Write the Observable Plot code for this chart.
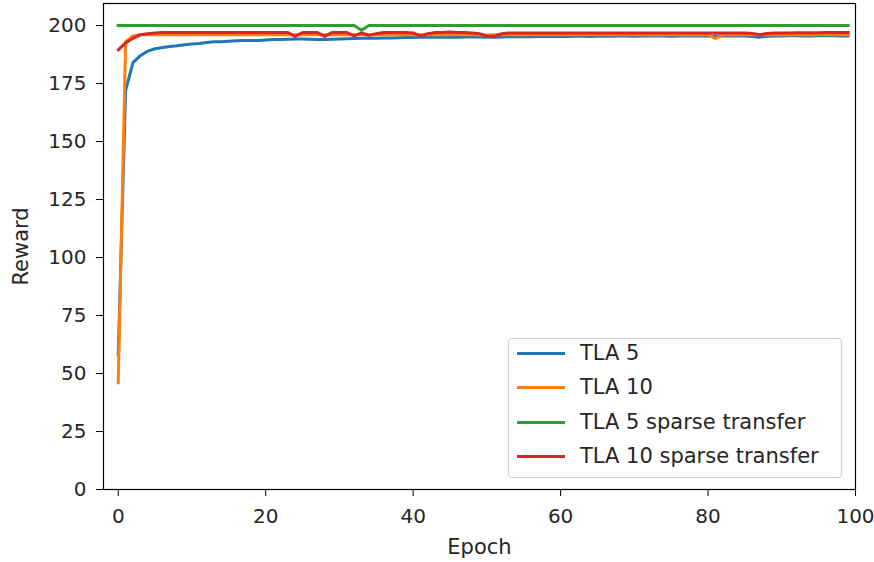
<!DOCTYPE html>
<html>
<head>
<meta charset="utf-8">
<script src="https://cdn.jsdelivr.net/npm/d3@7"></script>
<script src="https://cdn.jsdelivr.net/npm/@observablehq/plot@0.6"></script>
<style>
  html, body { margin: 0; padding: 0; background: #fff; }
  #wrap { position: relative; width: 874px; height: 562px; font-family: "DejaVu Sans", sans-serif; }
  #wrap svg { overflow: visible; }
  #legend { position: absolute; left: 508px; top: 338px; width: 334px; height: 140px;
    border: 1px solid #d0d0d0; border-radius: 4px; background: rgba(255,255,255,0.8); box-sizing: border-box; }
  .item { position: absolute; left: 8px; height: 22px; display: flex; align-items: center; }
  .sw { width: 48px; height: 3px; margin-right: 15px; }
  .lab { font-size: 21px; color: #262626; white-space: nowrap; }
</style>
</head>
<body>
<div id="wrap"></div>
<script>
const epochs = d3.range(0, 100);
const seriesNames = ["TLA 5", "TLA 10", "TLA 5 sparse transfer", "TLA 10 sparse transfer"];
const seriesColors = ["#1f77b4", "#ff7f0e", "#2ca02c", "#d62728"];
const xTicks = [0, 20, 40, 60, 80, 100];
const yTicks = [0, 25, 50, 75, 100, 125, 150, 175, 200];

const tla5 = [58,172,184,187,189,190,190.5,191,191.3,191.7,
  192,192.3,192.7,193,193,193.2,193.4,193.5,193.5,193.6,
  193.8,194,194,194.1,194.2,194.2,194.1,194,194,194.1,
  194.2,194.3,194.4,194.5,194.5,194.5,194.6,194.6,194.7,194.8,
  194.8,194.9,195,195,195,195,195,195.1,195.1,195.1,
  195,195,195.1,195.2,195.2,195.2,195.2,195.3,195.3,195.3,
  195.3,195.3,195.4,195.4,195.3,195.4,195.4,195.4,195.5,195.5,
  195.4,195.5,195.5,195.5,195.5,195.4,195.5,195.5,195.5,195.5,
  195.5,195.5,195.5,195.6,195.5,195.5,195.3,195,195.4,195.5,
  195.5,195.6,195.6,195.5,195.5,195.6,195.6,195.6,195.5,195.5];
const tla10 = [46,193,195.5,196,196,196,196,196,196,196,
  196,196,196,196,196,196,196,196,196,196,
  196,196,196,196,196,196,196,196,196,196,
  196,196,196,196,195.8,196,196,196,196,196,
  196,196,196,196,196,196,196,196,196,196,
  195.8,196,196,196,196,196,196,196,196,196,
  196,196,196,196,196,196,196,196,196,196,
  196,196,196,196,196,196,196,196,196,196,
  196,194.5,196,196,196,196,196,196,196,196,
  196,196,196,196,196,196,196,196,196,196];
const tla5Sparse = [200,200,200,200,200,200,200,200,200,200,
  200,200,200,200,200,200,200,200,200,200,
  200,200,200,200,200,200,200,200,200,200,
  200,200,200,198,200,200,200,200,200,200,
  200,200,200,200,200,200,200,200,200,200,
  200,200,200,200,200,200,200,200,200,200,
  200,200,200,200,200,200,200,200,200,200,
  200,200,200,200,200,200,200,200,200,200,
  200,200,200,200,200,200,200,200,200,200,
  200,200,200,200,200,200,200,200,200,200];
const tla10Sparse = [189.5,192.5,194.5,196,196.5,196.8,197,197,197,197,
  197,197,197,197,197,197,197,197,197,197,
  197,197,197,197,195.3,197,197,197,195.3,197,
  197,197,195.5,196.8,195.8,196.5,197,197,197,197,
  196.8,195.5,196.5,197,197,197.2,197,197,196.8,196.5,
  195.5,195.3,196.5,196.8,196.8,196.8,196.8,196.8,196.8,196.8,
  196.8,196.8,196.8,196.8,196.8,196.8,196.8,196.8,196.8,196.8,
  196.8,196.8,196.8,196.8,196.8,196.8,196.8,196.8,196.8,196.8,
  196.8,196.8,196.8,196.8,196.8,196.8,196.6,196,196.6,196.8,
  196.8,196.8,196.9,196.9,196.9,196.9,197,197,197,197];

const seriesValues = [tla5, tla10, tla5Sparse, tla10Sparse];
const rows = [];
seriesValues.forEach((vals, si) => {
  vals.forEach((v, i) => rows.push({epoch: epochs[i], reward: v, series: seriesNames[si]}));
});

const chart = Plot.plot({
  width: 874,
  height: 562,
  marginLeft: 103,
  marginRight: 19,
  marginTop: 3,
  marginBottom: 73,
  style: {fontFamily: "DejaVu Sans, sans-serif", fontSize: "20px", color: "#262626", background: "#fff", overflow: "visible"},
  x: {domain: [-2, 100]},
  y: {domain: [0, 209.5]},
  color: {domain: seriesNames, range: seriesColors},
  marks: [
    Plot.line(rows, {x: "epoch", y: "reward", z: "series", stroke: "series", strokeWidth: 3, strokeLinejoin: "round", strokeLinecap: "square"}),
    Plot.frame({stroke: "#000", strokeWidth: 1.2}),
    Plot.axisX({ticks: xTicks, tickSize: 7, tickPadding: 12, stroke: "#000", fontSize: 20, label: null}),
    Plot.axisX({ticks: [], label: "Epoch", labelAnchor: "center", labelArrow: "none", labelOffset: 64, fontSize: 21}),
    Plot.axisY({ticks: yTicks, tickSize: 7, tickPadding: 10, stroke: "#000", fontSize: 20, label: null}),
    Plot.axisY({ticks: [], label: "Reward", labelAnchor: "center", labelArrow: "none", labelOffset: 90, fontSize: 21})
  ]
});

const wrap = document.getElementById("wrap");
wrap.appendChild(chart);

const legend = document.createElement("div");
legend.id = "legend";
const legendTops = [3, 37, 72, 106];
seriesNames.forEach((name, i) => {
  const item = document.createElement("div");
  item.className = "item";
  item.style.top = legendTops[i] + "px";
  const sw = document.createElement("span");
  sw.className = "sw";
  sw.style.background = seriesColors[i];
  const lab = document.createElement("span");
  lab.className = "lab";
  lab.textContent = name;
  item.appendChild(sw);
  item.appendChild(lab);
  legend.appendChild(item);
});
wrap.appendChild(legend);
</script>
</body>
</html>
